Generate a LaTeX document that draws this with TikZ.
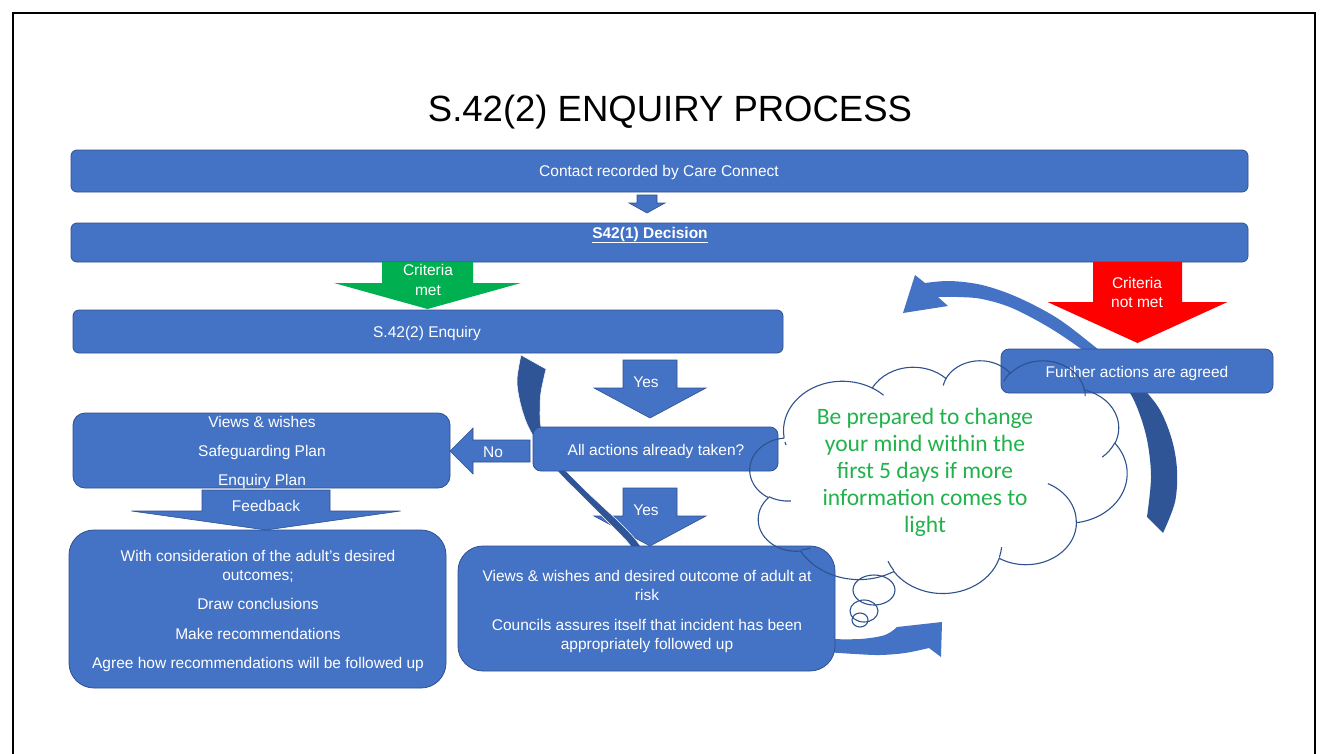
\documentclass[tikz,border=0pt]{standalone}
\usepackage{fontspec}
\setmainfont{Liberation Sans}
\newfontfamily\notefont{Carlito}
\definecolor{boxblue}{HTML}{4472C4}
\definecolor{edgeblue}{HTML}{2F528F}
\definecolor{deepblue}{HTML}{2F5597}
\definecolor{metgreen}{HTML}{00B050}
\definecolor{notmetred}{HTML}{FF0000}
\definecolor{notegreen}{HTML}{22B24C}

\tikzset{
  flowbox/.style={draw=edgeblue, line width=0.8pt, fill=boxblue, rounded corners=#1, inner sep=0pt},
  flowbox/.default=6pt,
  boxlabel/.style={text=white, font=\fontsize{15.5}{18}\selectfont, inner sep=0pt, anchor=base},
  bluearrow/.style={fill=boxblue, draw=edgeblue, line width=0.6pt},
  band/.style={fill=deepblue},
  cloudline/.style={draw=edgeblue, line width=1.1pt},
  notetext/.style={text=notegreen, font=\notefont\fontsize{23.5}{27}\selectfont, inner sep=0pt, anchor=base},
}

% downward block arrow: style, centre x, top, shaft half width, head y, head half width, tip y
\newcommand\downblock[7]{%
  \path[#1] (#2-#4,#3) -- (#2+#4,#3) -- (#2+#4,#5) -- (#2+#6,#5) -- (#2,#7)
    -- (#2-#6,#5) -- (#2-#4,#5) -- cycle;}

% one elliptical arc of the cloud outline; start and sweep are given as
% visual angles and turned into parametric ones for TikZ
\newcommand\puffarc[4]{%
  \pgfextra{%
    \pgfmathparse{atan2(#1*sin(#3),#2*cos(#3))}\xdef\puffA{\pgfmathresult}%
    \pgfmathparse{atan2(#1*sin(#3+#4),#2*cos(#3+#4))}\xdef\puffB{\pgfmathresult}%
    \pgfmathparse{\puffA+mod(\puffB-\puffA+720,360)}\xdef\puffB{\pgfmathresult}%
  }
  arc[x radius=#1, y radius=#2, start angle=\puffA, end angle=\puffB]}

\begin{document}
\begin{tikzpicture}[x=1pt, y=-1pt]
\useasboundingbox (0,0) rectangle (1320,753);
\fill[white] (0,0) rectangle (1320,753);

% page frame
\draw[line width=2.2pt] (13,760) -- (13,13) -- (1315,13) -- (1315,760);

\node[font=\fontsize{36.5}{40}\selectfont, inner sep=0pt, anchor=base] (title) at (670,121) {S.42(2) ENQUIRY PROCESS};

% second "Yes" arrow sits beneath the curved band
\downblock{bluearrow}{650}{488}{27}{516}{56}{546}

% curved band from the enquiry down to the outcome box
\path[band, draw=white, line width=0.5pt]
  plot[smooth, tension=0.55] coordinates {(546,369) (541,392) (540,410) (541,427) (548,448) (558,463) (571,476) (586,491) (602,506) (619,522) (636,540) (648,558)}
  -- plot[smooth, tension=0.55] coordinates {(640,562) (630,545) (614,528) (596,510) (579,493) (563,477) (550,462) (538,444) (527,424) (520,402) (517,380) (521,355)}
  -- cycle;

% curved return arrow on the right: lower (dark) part
\path[band]
  plot[smooth, tension=0.55] coordinates {(1112,372) (1130,393) (1141,418) (1148,445) (1151,478) (1147,517)}
  -- (1163,533)
  -- plot[smooth, tension=0.55] coordinates {(1163,533) (1175,502) (1177,470) (1172,440) (1160,410) (1142,387) (1122,366)}
  -- cycle;
% upper part with the head
\path[fill=boxblue]
  plot[smooth, tension=0.55] coordinates {(1115,375) (1087,353) (1050,328) (1012,308) (982,299) (958,297) (938,297)}
  -- (948,306) -- (903,313) -- (915,275)
  -- plot[smooth, tension=0.55] coordinates {(925,283) (950,281) (982,285) (1017,297) (1057,318) (1094,346) (1125,372)}
  -- cycle;

% short curved arrow leaving the outcome box
\path[fill=boxblue]
  plot[smooth, tension=0.55] coordinates {(825,639) (860,639) (885,635) (897,627)}
  -- (942,622) -- (941,657) -- (929,648)
  -- plot[smooth, tension=0.55] coordinates {(929,648) (905,653) (880,655) (855,654) (825,652)}
  -- cycle;

% process boxes
\node[flowbox, minimum width=1177, minimum height=42] (contact) at (659.5,171) {};
\node[flowbox, minimum width=1177, minimum height=39] (decision) at (659.5,242.5) {};
\node[flowbox, minimum width=710, minimum height=43] (enquiry) at (428,331.5) {};
\node[flowbox=8pt, minimum width=272, minimum height=44] (further) at (1137,371) {};
\node[flowbox=8pt, minimum width=245, minimum height=44] (actions) at (655.5,449) {};
\node[flowbox=12pt, minimum width=377, minimum height=75] (plans) at (261.5,450.5) {};
\node[flowbox=25pt, minimum width=377, minimum height=158] (findings) at (257.5,609) {};
\node[flowbox=25pt, minimum width=377, minimum height=125] (assurance) at (646.5,608.5) {};

% block arrows
\downblock{bluearrow}{647}{195}{10}{203}{18}{213}
\downblock{fill=metgreen}{427.5}{262}{45.5}{283}{93.5}{309}
\downblock{fill=notmetred}{1137.5}{262}{44.5}{302}{90}{343}
\downblock{bluearrow}{650}{360}{27}{388}{56}{418}
\downblock{bluearrow}{266}{490}{64}{511}{134.5}{530}
\path[bluearrow] (530,440) -- (530,462) -- (473,462) -- (473,474) -- (450,451)
  -- (473,428) -- (473,440) -- cycle;

% labels
\node[boxlabel] (contact-t) at (659,176) {Contact recorded by Care Connect};
\node[boxlabel] (decision-t) at (650,238) {\textbf{\underline{S42(1) Decision}}};
\node[boxlabel] (met-a) at (428,275) {Criteria};
\node[boxlabel] (met-b) at (428,295) {met};
\node[boxlabel] (notmet-a) at (1137,288) {Criteria};
\node[boxlabel] (notmet-b) at (1137,307) {not met};
\node[boxlabel] (enquiry-t) at (427,337) {S.42(2) Enquiry};
\node[boxlabel] (further-t) at (1137,377) {Further actions are agreed};
\node[boxlabel] (yes-a) at (646,387) {Yes};
\node[boxlabel] (actions-t) at (656,455) {All actions already taken?};
\node[boxlabel] (no-t) at (493,457) {No};
\node[boxlabel] (yes-b) at (646,515) {Yes};
\node[boxlabel] (plans-a) at (262,427) {Views \& wishes};
\node[boxlabel] (plans-b) at (262,456) {Safeguarding Plan};
\node[boxlabel] (plans-c) at (262,485) {Enquiry Plan};
\node[boxlabel] (feedback-t) at (266,511) {Feedback};
\node[boxlabel] (findings-a) at (258,561) {With consideration of the adult's desired};
\node[boxlabel] (findings-b) at (258,580) {outcomes;};
\node[boxlabel] (findings-c) at (258,609) {Draw conclusions};
\node[boxlabel] (findings-d) at (258,639) {Make recommendations};
\node[boxlabel] (findings-e) at (258,668) {Agree how recommendations will be followed up};
\node[boxlabel] (assurance-a) at (647,581) {Views \& wishes and desired outcome of adult at};
\node[boxlabel] (assurance-b) at (647,600) {risk};
\node[boxlabel] (assurance-c) at (647,630) {Councils assures itself that incident has been};
\node[boxlabel] (assurance-d) at (647,649) {appropriately followed up};

% thought cloud (outline only) with its inner fold lines
\begin{scope}[shift={(750,360)}, x=0.0087269pt, y=-0.0053935pt]
\draw[cloudline] (3900,14370)
  \puffarc{6753}{9190}{-190.4875}{123.7805}
  \puffarc{5333}{7267}{-144.1024}{89.9452}
  \puffarc{4365}{5945}{-145.8079}{99.7230}
  \puffarc{4857}{6595}{-130.9861}{117.2417}
  \puffarc{5333}{7273}{-78.7089}{109.0269}
  \puffarc{6775}{9220}{-46.2673}{130.2690}
  \puffarc{5785}{7867}{0.6250}{114.0333}
  \puffarc{6752}{9215}{22.4516}{115.1726}
  \puffarc{7720}{10543}{66.2426}{75.7110}
  \puffarc{4360}{5918}{-274.9421}{146.7356}
  \puffarc{4345}{5945}{-246.8285}{152.5189}
  -- cycle;
\draw[cloudline]
  (4693,26177) \puffarc{4345}{5945}{86.742}{26.4295}
  (6928,34899) \puffarc{4360}{5918}{73.6105}{11.4475}
  (16478,39090) \puffarc{6752}{9215}{137.6242}{14.0811}
  (28827,34751) \puffarc{6752}{9215}{6.4533}{15.9984}
  (34129,22954) \puffarc{5785}{7867}{-70.2924}{70.9174}
  (41798,15354) \puffarc{5333}{7273}{30.3180}{27.7515}
  (38324,5426) \puffarc{4857}{6595}{-13.7443}{14.8589}
  (29078,3952) \puffarc{4857}{6595}{-149.1815}{18.1954}
  (22141,4720) \puffarc{4365}{5945}{-163.4943}{17.6864}
  (14000,5192) \puffarc{6753}{9190}{-66.7070}{12.3194}
  (4127,15789) \puffarc{6753}{9190}{154.9803}{4.5369};
\end{scope}
\draw[cloudline] (874,590) ellipse [x radius=21, y radius=15];
\draw[cloudline] (864,611) ellipse [x radius=14, y radius=11];
\draw[cloudline] (860,620) ellipse [x radius=8, y radius=7];

\node[notetext] (note-a) at (925,424) {Be prepared to change};
\node[notetext] (note-b) at (925,451) {your mind within the};
\node[notetext] (note-c) at (925,478) {first 5 days if more};
\node[notetext] (note-d) at (925,505) {information comes to};
\node[notetext] (note-e) at (925,532) {light};
\end{tikzpicture}
\end{document}
